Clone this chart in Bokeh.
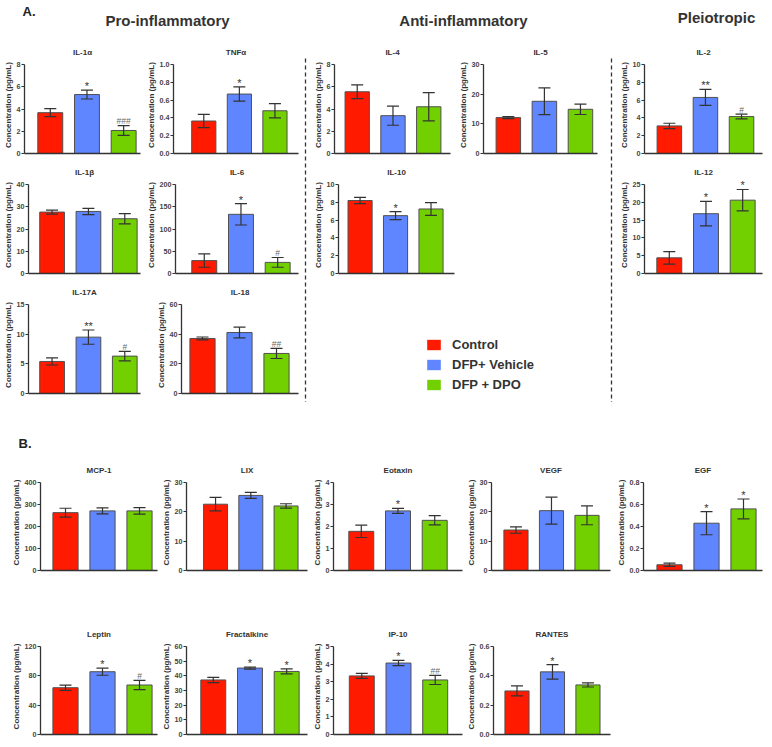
from bokeh.plotting import figure
from bokeh.layouts import row, column
from bokeh.models import (ColumnDataSource, Whisker, TeeHead, FixedTicker, Range1d,
                          Legend, LegendItem, Label, Spacer, PrintfTickFormatter)
from bokeh.embed import file_html
from bokeh.resources import INLINE
from bokeh.core.properties import value

FONT = "Liberation Sans"
groups = ["Control", "DFP+ Vehicle", "DFP + DPO"]
colors = ["#FF1A00", "#5F85FF", "#72CF00"]
y_label = "Concentration (pg/mL)"

# ---------------- Section A: data (mean, SEM, significance, y ticks) ----------------
il1a_mean = [3.67, 5.30, 2.07]; il1a_sem = [0.36, 0.40, 0.44]; il1a_sig = ["", "*", "###"]; il1a_ticks = [0, 2, 4, 6, 8]
tnfa_mean = [0.365, 0.668, 0.48]; tnfa_sem = [0.075, 0.08, 0.08]; tnfa_sig = ["", "*", ""]; tnfa_ticks = [0.0, 0.2, 0.4, 0.6, 0.8, 1.0]
il1b_mean = [27.6, 27.9, 24.6]; il1b_sem = [0.9, 1.4, 2.3]; il1b_sig = ["", "", ""]; il1b_ticks = [0, 10, 20, 30, 40]
il6_mean = [29, 133, 25]; il6_sem = [15, 24, 11]; il6_sig = ["", "*", "#"]; il6_ticks = [0, 50, 100, 150, 200]
il17a_mean = [5.4, 9.5, 6.3]; il17a_sem = [0.6, 1.2, 0.8]; il17a_sig = ["", "**", "#"]; il17a_ticks = [0, 5, 10, 15]
il18_mean = [37.1, 41.1, 27.0]; il18_sem = [1.0, 3.6, 3.4]; il18_sig = ["", "", "##"]; il18_ticks = [0, 20, 40, 60]
il4_mean = [5.55, 3.4, 4.2]; il4_sem = [0.62, 0.86, 1.27]; il4_sig = ["", "", ""]; il4_ticks = [0, 2, 4, 6, 8]
il5_mean = [12.1, 17.6, 14.9]; il5_sem = [0.35, 4.5, 1.75]; il5_sig = ["", "", ""]; il5_ticks = [0, 10, 20, 30]
il10_mean = [8.2, 6.5, 7.25]; il10_sem = [0.35, 0.45, 0.72]; il10_sig = ["", "*", ""]; il10_ticks = [0, 2, 4, 6, 8, 10]
il2_mean = [3.1, 6.3, 4.15]; il2_sem = [0.3, 0.9, 0.27]; il2_sig = ["", "**", "#"]; il2_ticks = [0, 2, 4, 6, 8, 10]
il12_mean = [4.4, 16.8, 20.6]; il12_sem = [1.75, 3.45, 3.0]; il12_sig = ["", "*", "*"]; il12_ticks = [0, 5, 10, 15, 20, 25]

# ---------------- Section B ----------------
mcp1_mean = [263, 271, 271]; mcp1_sem = [20, 14, 15]; mcp1_sig = ["", "", ""]; mcp1_ticks = [0, 100, 200, 300, 400]
lix_mean = [22.6, 25.6, 22.0]; lix_sem = [2.3, 1.0, 0.75]; lix_sig = ["", "", ""]; lix_ticks = [0, 10, 20, 30]
eot_mean = [1.78, 2.71, 2.28]; eot_sem = [0.28, 0.11, 0.21]; eot_sig = ["", "*", ""]; eot_ticks = [0, 1, 2, 3, 4]
vegf_mean = [13.8, 20.4, 18.8]; vegf_sem = [1.1, 4.6, 3.2]; vegf_sig = ["", "", ""]; vegf_ticks = [0, 10, 20, 30]
egf_mean = [0.052, 0.43, 0.56]; egf_sem = [0.015, 0.105, 0.09]; egf_sig = ["", "*", "*"]; egf_ticks = [0.0, 0.2, 0.4, 0.6, 0.8]
leptin_mean = [63.8, 85.6, 67.5]; leptin_sem = [3.6, 4.8, 6.2]; leptin_sig = ["", "*", "#"]; leptin_ticks = [0, 40, 80, 120]
fract_mean = [37.2, 45.3, 43.0]; fract_sem = [1.8, 0.7, 1.7]; fract_sig = ["", "*", "*"]; fract_ticks = [0, 10, 20, 30, 40, 50, 60]
ip10_mean = [3.33, 4.06, 3.1]; ip10_sem = [0.14, 0.15, 0.26]; ip10_sig = ["", "*", "##"]; ip10_ticks = [0, 1, 2, 3, 4, 5]
rantes_mean = [0.297, 0.427, 0.338]; rantes_sem = [0.034, 0.05, 0.014]; rantes_sig = ["", "*", ""]; rantes_ticks = [0.0, 0.2, 0.4, 0.6]

# ---------------- Geometry (reference pixel layout) ----------------
# (col_start, col_end, frame_left, frame_right, first_bar_center)
geom = {
    "il1a": (0, 143, 23, 140, 49), "tnfa": (143, 300, 168, 298, 199.5),
    "il1b": (0, 143, 26, 140, 50), "il6": (143, 300, 174, 298, 203),
    "il17a": (0, 143, 26, 140, 50), "il18": (143, 300, 181, 298, 202),
    "il4": (310, 455, 330, 450, 353.5), "il5": (455, 605, 480, 597, 505.5),
    "il10": (310, 458, 333, 454, 355.5),
    "il2": (616, 764, 641, 762, 666.5), "il12": (616, 764, 643, 762, 668),
    "mcp1": (0, 158, 40, 157, 65), "lix": (158, 309, 180, 307, 210.5),
    "eot": (309, 463, 332, 462, 360), "vegf": (463, 612, 486, 610, 511.5),
    "egf": (612, 764, 643, 762, 669),
    "leptin": (0, 158, 40, 157, 65), "fract": (158, 309, 185, 307, 212),
    "ip10": (309, 463, 332, 462, 360.5), "rantes": (463, 612, 488, 610, 512.5),
}
PITCH = 37.0
HEAD = 8  # px of free room above the top tick, so marks above bars are not clipped


def panel(key, title, mean, sem, sig, ticks, height, top, axis_h):
    cs, ce, fl, fr, c1 = geom[key]
    W = ce - cs
    x0 = 1 - (c1 - fl) / PITCH
    x1 = x0 + (fr - fl) / PITCH
    frame_h = axis_h + HEAD
    ytop = ticks[-1] * frame_h / axis_h
    p = figure(width=W, height=height, output_backend="svg", toolbar_location=None,
               x_range=Range1d(x0, x1), y_range=Range1d(0, ytop),
               min_border_left=fl - cs, min_border_right=ce - fr,
               min_border_top=top - HEAD, min_border_bottom=height - top - axis_h)
    p.outline_line_color = None
    p.grid.visible = False
    p.title.text = title
    p.title.align = "center"
    p.title.text_font = FONT
    p.title.text_font_size = "8px"
    p.title.text_font_style = "bold"
    p.title.text_color = "#333333"
    p.title.standoff = 0

    xs = [1, 2, 3]
    p.vbar(x=xs, top=mean, width=0.68, fill_color=colors, line_color="#505050", line_width=1)
    upper = [m + s for m, s in zip(mean, sem)]
    lower = [m - s for m, s in zip(mean, sem)]
    src = ColumnDataSource(dict(x=xs, upper=upper, lower=lower))
    w = Whisker(base="x", upper="upper", lower="lower", source=src, level="annotation",
                line_color="#333333", line_width=1.2,
                upper_head=TeeHead(size=12, line_color="#333333", line_width=1.2),
                lower_head=TeeHead(size=12, line_color="#333333", line_width=1.2))
    p.add_layout(w)
    star = ["*" in s for s in sig]
    p.text(x=xs, y=upper, text=sig, text_align="center", text_baseline="alphabetic",
           y_offset=[-4 if s else -4.5 for s in star], text_font=value(FONT),
           text_font_size=["11px" if s else "8.5px" for s in star],
           text_color=["#333333" if s else "#6a6a6a" for s in star])

    ya = p.yaxis[0]
    ya.ticker = FixedTicker(ticks=ticks)
    ya.bounds = (0, ticks[-1])
    if any(float(t) != int(t) for t in ticks):
        ya.formatter = PrintfTickFormatter(format="%.1f")
    else:
        ya.formatter = PrintfTickFormatter(format="%d")
    ya.minor_tick_line_color = None
    ya.major_tick_in = 0
    ya.major_tick_out = 3
    ya.major_label_standoff = 1
    ya.major_label_text_font = FONT
    ya.major_label_text_font_size = "7.2px"
    ya.major_label_text_font_style = "bold"
    ya.major_label_text_color = "#444444"
    ya.axis_line_color = "#333333"
    ya.axis_line_width = 1.3
    ya.major_tick_line_color = "#333333"
    ya.axis_label = y_label
    ya.axis_label_text_font = FONT
    ya.axis_label_text_font_size = "8px"
    ya.axis_label_text_font_style = "bold"
    ya.axis_label_text_color = "#333333"
    ya.axis_label_standoff = 1

    xa = p.xaxis[0]
    xa.ticker = FixedTicker(ticks=[])
    xa.major_label_text_font_size = "0px"
    xa.major_tick_line_color = None
    xa.minor_tick_line_color = None
    xa.major_label_standoff = 0
    xa.axis_line_color = "#333333"
    xa.axis_line_width = 1.3
    return p


def blank(width, height):
    p = figure(width=width, height=height, output_backend="svg", toolbar_location=None,
               x_range=Range1d(0, width), y_range=Range1d(height, 0),
               x_axis_type=None, y_axis_type=None, min_border=0)
    p.outline_line_color = None
    p.grid.visible = False
    return p


# Headers
hA = blank(764, 42)
for txt, x, y, size, align in [("A.", 22, 11, "13px", "left"),
                               ("Pro-inflammatory", 167, 20, "15px", "center"),
                               ("Anti-inflammatory", 463, 20, "15px", "center"),
                               ("Pleiotropic", 716, 17, "15px", "center")]:
    hA.add_layout(Label(x=x, y=y, text=txt, text_font=FONT, text_font_size=size,
                        text_font_style="bold", text_color="#222222" if txt == "A." else "#333333",
                        text_align=align, text_baseline="middle"))

HB = 58
hB = blank(764, HB)
hB.add_layout(Label(x=18, y=HB - 17, text="B.", text_font=FONT, text_font_size="13px",
                    text_font_style="bold", text_color="#222222", text_align="left",
                    text_baseline="middle"))

AH, AT, AF = 120, 22, 89
p_il1a = panel("il1a", "IL-1α", il1a_mean, il1a_sem, il1a_sig, il1a_ticks, AH, AT, AF)
p_tnfa = panel("tnfa", "TNFα", tnfa_mean, tnfa_sem, tnfa_sig, tnfa_ticks, AH, AT, AF)
p_il1b = panel("il1b", "IL-1β", il1b_mean, il1b_sem, il1b_sig, il1b_ticks, AH, AT, AF)
p_il6 = panel("il6", "IL-6", il6_mean, il6_sem, il6_sig, il6_ticks, AH, AT, AF)
p_il17a = panel("il17a", "IL-17A", il17a_mean, il17a_sem, il17a_sig, il17a_ticks, AH, AT, AF)
p_il18 = panel("il18", "IL-18", il18_mean, il18_sem, il18_sig, il18_ticks, AH, AT, AF)
p_il4 = panel("il4", "IL-4", il4_mean, il4_sem, il4_sig, il4_ticks, AH, AT, AF)
p_il5 = panel("il5", "IL-5", il5_mean, il5_sem, il5_sig, il5_ticks, AH, AT, AF)
p_il10 = panel("il10", "IL-10", il10_mean, il10_sem, il10_sig, il10_ticks, AH, AT, AF)
p_il2 = panel("il2", "IL-2", il2_mean, il2_sem, il2_sig, il2_ticks, AH, AT, AF)
p_il12 = panel("il12", "IL-12", il12_mean, il12_sem, il12_sig, il12_ticks, AH, AT, AF)


# dashed dividers between the three groups of section A
def divider(width, xpos):
    d = blank(width, 3 * AH)
    d.segment(x0=[xpos], y0=[16], x1=[xpos], y1=[3 * AH], line_dash="4 3",
              line_color="#333333", line_width=1.3)
    return d


div1 = divider(10, 5)
div2 = divider(11, 6)

# legend
leg_fig = blank(295, AH)
leg_items = []
for g, c in zip(groups, colors):
    r = leg_fig.vbar(x=[-500], top=[-500], width=1, fill_color=c, line_color=None)
    leg_items.append(LegendItem(label=g, renderers=[r]))
legend = Legend(items=leg_items, location=(115, 10), glyph_width=17, glyph_height=13,
                label_text_font=FONT, label_text_font_size="13px", label_text_font_style="bold",
                label_text_color="#333333", spacing=5, padding=0, margin=0,
                border_line_color=None, background_fill_alpha=0, label_standoff=10,
                label_height=13)
leg_fig.add_layout(legend)

pro_col = column(row(p_il1a, p_tnfa), row(p_il1b, p_il6), row(p_il17a, p_il18))
anti_col = column(row(p_il4, p_il5), row(p_il10, Spacer(width=147, height=AH)), leg_fig)
pleio_col = column(p_il2, p_il12, Spacer(width=148, height=AH))
secA = row(pro_col, div1, anti_col, div2, pleio_col)

B1H, BT, BF = 164, 22, 88
p_mcp1 = panel("mcp1", "MCP-1", mcp1_mean, mcp1_sem, mcp1_sig, mcp1_ticks, B1H, BT, BF)
p_lix = panel("lix", "LIX", lix_mean, lix_sem, lix_sig, lix_ticks, B1H, BT, BF)
p_eot = panel("eot", "Eotaxin", eot_mean, eot_sem, eot_sig, eot_ticks, B1H, BT, BF)
p_vegf = panel("vegf", "VEGF", vegf_mean, vegf_sem, vegf_sig, vegf_ticks, B1H, BT, BF)
p_egf = panel("egf", "EGF", egf_mean, egf_sem, egf_sig, egf_ticks, B1H, BT, BF)

B2H = 115
p_leptin = panel("leptin", "Leptin", leptin_mean, leptin_sem, leptin_sig, leptin_ticks, B2H, BT, BF)
p_fract = panel("fract", "Fractalkine", fract_mean, fract_sem, fract_sig, fract_ticks, B2H, BT, BF)
p_ip10 = panel("ip10", "IP-10", ip10_mean, ip10_sem, ip10_sig, ip10_ticks, B2H, BT, BF)
p_rantes = panel("rantes", "RANTES", rantes_mean, rantes_sem, rantes_sig, rantes_ticks, B2H, BT, BF)

rowB1 = row(p_mcp1, p_lix, p_eot, p_vegf, p_egf)
rowB2 = row(p_leptin, p_fract, p_ip10, p_rantes, Spacer(width=152, height=B2H))

page = column(hA, secA, hB, rowB1, rowB2)

open("out.html", "w").write(file_html(page, INLINE))
